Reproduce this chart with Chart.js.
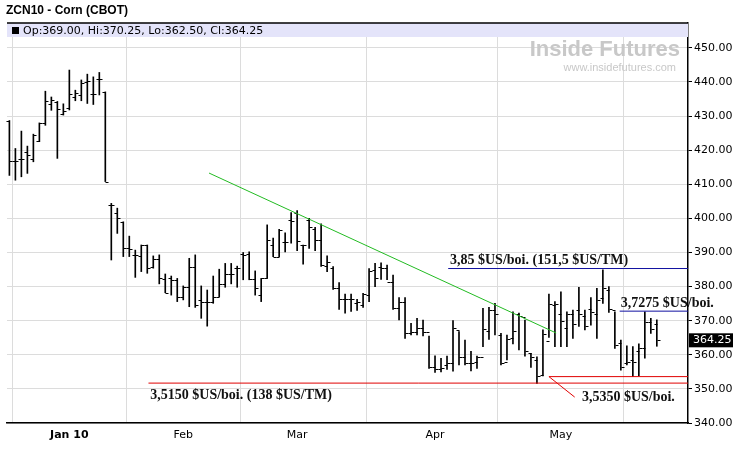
<!DOCTYPE html>
<html>
<head>
<meta charset="utf-8">
<script src="https://cdn.jsdelivr.net/npm/chart.js@4/dist/chart.umd.min.js"></script>
<style>
  body { margin: 0; background: #fff; }
  canvas { display: block; }
</style>
</head>
<body>
<canvas id="grafico" width="733" height="450"></canvas>
<script>
// ---- dados (índice = dia de pregão, 0 = 4 jan 2010) ----
const dias = [];
for (let i = -10; i <= 98; i++) dias.push(i);

const aberturas = [428.5,416.8,417.4,419.5,417.5,422.6,428,433.5,434,430.5,
  432.5,435.6,436.2,440,436.6,441,437,403.8,401.5,398.8,391.2,389.3,389,392.2,385.8,388,382.1,382.4,382,377,379.8,385.8,376.1,375.6,375.6,377,380.8,383.7,385.4,
  389.6,389.6,382.1,377.5,382.4,392.2,388.8,393.2,399.5,401.7,392.2,399.5,396.8,393.7,385.9,385.6,379.5,376.3,376.3,
  375.1,374.6,377.5,384.9,385.8,385.4,381.4,373.6,375.6,366.3,366.8,367.8,366.8,356.5,355.7,357,357.5,367.3,359.4,357.5,
  358,359.5,367,373,365.8,358,364.8,372,371,360.5,358.5,354.2,364,374.5,372,368,372,373,371.5,
  373.5,372,376.6,379,373,363.5,357.5,358.5,361,362,369.5,369];
const maximas = [428.7,420.5,425.6,421.2,424.7,428,437.3,435.6,434.3,433.6,
  443.5,437.6,440.6,442.3,441.5,442.8,437.1,404.4,403,399,394.8,390.7,392.2,392.2,389,389.3,383.7,383.1,382.4,380.2,388.3,389.3,380.2,379,383.1,385.1,386.8,386.8,386,
  390,390.2,384.6,382.4,398.1,394.2,396.8,395.8,401.7,402.3,392.2,400,397.4,398.4,389,385.9,381.2,377.8,377.8,
  376.3,378,385.3,386.8,387,386.3,383.4,376.8,376.8,369.2,370.7,370.2,365.5,359.7,359,359.6,370,366.8,364.3,361,
  359.6,373.6,373.9,375.1,366.3,365.8,372.6,372.2,370.2,360.4,359.4,367.3,377.8,375.6,378.5,372.6,373.1,379.8,373.1,
  376.8,379.5,384.9,380,372.6,364.3,362.6,362.4,363.2,372.6,370.7,370.25];
const minimas = [412.6,411.2,412.2,413.2,416.6,422.5,427.3,431.7,417.6,430.3,
  431.8,434.5,434.5,433.7,433.4,436.2,410.8,387.8,395.6,388.8,388.8,382.7,384.4,383.9,385.4,380.8,378.2,377.5,375.6,376.1,374.1,373.9,370.7,368.4,375.1,377,379.8,380.8,379.8,
  382,382,377.5,375.6,382.4,388.8,388.8,390.2,392.7,390.5,386.6,391.2,390.5,385.9,384.4,379.2,373.3,372.2,372.7,
  373,373.9,375.6,380,382.1,382,373.3,370.2,364.8,365.8,365.8,365.5,356,354.8,355,355.7,355.2,357,357,355.3,
  356,362.4,364.5,365.8,357,358.5,363.2,361.4,359.6,356.3,351.6,353.8,365.1,362.4,362.4,362.4,364.8,368.3,367.3,
  368.7,364.8,375.1,372.4,361.9,355.5,357,353.6,353.8,359,366.3,362.5];
const fechamentos = [416.8,416.8,417.4,418.5,424.5,428,434.3,434.6,432,431.5,
  436.6,436.8,439.8,440.4,436.6,440.8,410.8,403.8,400,391.2,391,389.3,392.2,385.4,388,382.4,378.2,382,377,379.8,385.8,374.6,375.6,375.4,377,380.8,383.7,383.7,385.4,
  389.3,382.1,379.5,382.4,393.7,388.8,396.6,393.2,399.3,393.5,392.2,397.6,393.7,386.4,387.3,379.5,376.3,376.3,376.3,
  375.6,377.8,384.7,382.4,385.4,381.4,373.6,375.6,366.3,366.8,367.8,366.8,356.5,355.7,356,357.5,367.8,359.4,357.5,357.5,
  359.4,367.5,373,372,357.5,364.5,367,371.5,361,359.5,353.8,366,375,375,370,372,369,372,368.5,
  372.5,376,379.5,373.5,363,356.5,358,358,362,369.5,367.5,364.25];

const mesesPos = [0, 19, 38, 61, 82];
const mesesNomes = ['Jan 10', 'Feb', 'Mar', 'Apr', 'May'];

// anotações (preço em US cents/bu)
const resistencia = 385.3, resistencia2 = 372.8, suporte = 351.7, suporte2 = 353.6;
const tendencia = [[23.3, 413.3], [81.2, 366.4]];

const barras = dias.map((d, i) => ({ x: d, y: [minimas[i], maximas[i]] }));

// desenha cabeçalho, ticks de abertura/fechamento e anotações
const extras = {
  id: 'extras',
  beforeDatasetsDraw(chart) {
    const { ctx, chartArea: a } = chart;
    ctx.save();
    ctx.fillStyle = '#e4e4fa';
    ctx.fillRect(a.left, a.top, a.right - a.left, 14);
    ctx.strokeStyle = '#000';
    ctx.lineWidth = 1.5;
    ctx.beginPath();
    ctx.moveTo(a.left, a.top); ctx.lineTo(a.right, a.top);
    ctx.stroke();
    ctx.fillStyle = '#000';
    ctx.fillRect(a.left + 5, a.top + 4, 7, 7);
    ctx.font = '11px "DejaVu Sans", sans-serif';
    ctx.textBaseline = 'middle';
    const n = dias.length - 1;
    ctx.fillText('Op:' + aberturas[n].toFixed(2) + ', Hi:' + maximas[n].toFixed(2) +
      ', Lo:' + minimas[n].toFixed(2) + ', Cl:' + fechamentos[n].toFixed(2), a.left + 16, a.top + 8);
    // marca d'água
    ctx.fillStyle = '#c8c8c8';
    ctx.font = 'bold 22px "Liberation Sans", sans-serif';
    ctx.textAlign = 'right';
    ctx.fillText('Inside Futures', a.right - 8, a.top + 27);
    ctx.font = '11px "Liberation Sans", sans-serif';
    ctx.fillText('www.insidefutures.com', a.right - 12, a.top + 45);
    ctx.restore();
  },
  afterDatasetsDraw(chart) {
    const { ctx, chartArea: a, scales: { x, y } } = chart;
    ctx.save();
    // ticks OHLC
    ctx.strokeStyle = '#000';
    ctx.lineWidth = 1;
    dias.forEach((d, i) => {
      const px = Math.round(x.getPixelForValue(d)) + 0.5;
      const yo = Math.round(y.getPixelForValue(aberturas[i])) + 0.5;
      const yc = Math.round(y.getPixelForValue(fechamentos[i])) + 0.5;
      ctx.beginPath();
      ctx.moveTo(px - 3, yo); ctx.lineTo(px, yo);
      ctx.moveTo(px, yc); ctx.lineTo(px + 3, yc);
      ctx.stroke();
    });
    const linha = (x1, v1, x2, v2, cor) => {
      ctx.strokeStyle = cor;
      ctx.beginPath();
      ctx.moveTo(x.getPixelForValue(x1), y.getPixelForValue(v1));
      ctx.lineTo(x.getPixelForValue(x2), y.getPixelForValue(v2));
      ctx.stroke();
    };
    const xmax = x.max;
    linha(tendencia[0][0], tendencia[0][1], tendencia[1][0], tendencia[1][1], '#22bb22');
    linha(63.2, resistencia, xmax, resistencia, '#1010a0');
    linha(91.8, resistencia2, xmax, resistencia2, '#1010a0');
    linha(13.2, suporte, xmax, suporte, '#e00000');
    linha(80, suporte2, xmax, suporte2, '#e00000');
    linha(80, suporte2, 84.3, 347.6, '#e00000');
    // textos
    ctx.fillStyle = '#111';
    ctx.font = 'bold 14px "Liberation Serif", serif';
    ctx.textBaseline = 'bottom';
    ctx.fillText('3,85 $US/boi. (151,5 $US/TM)', x.getPixelForValue(63.5), y.getPixelForValue(resistencia) - 1);
    ctx.fillText('3,7275 $US/boi.', x.getPixelForValue(92), y.getPixelForValue(resistencia2) - 1);
    ctx.textBaseline = 'top';
    ctx.fillText('3,5150 $US/boi. (138 $US/TM)', x.getPixelForValue(13.5), y.getPixelForValue(suporte) + 5);
    ctx.fillText('3,5350 $US/boi.', x.getPixelForValue(85.5), y.getPixelForValue(349.5));
    // último preço
    const yl = y.getPixelForValue(fechamentos[fechamentos.length - 1]);
    ctx.fillStyle = '#000';
    ctx.fillRect(a.right + 1, yl - 7, 44, 14);
    ctx.fillStyle = '#fff';
    ctx.font = '11px "DejaVu Sans", sans-serif';
    ctx.textBaseline = 'middle';
    ctx.fillText(fechamentos[fechamentos.length - 1].toFixed(2), a.right + 5, yl);
    // título
    ctx.fillStyle = '#000';
    ctx.font = 'bold 12px "Liberation Sans", sans-serif';
    ctx.fillText('ZCN10 - Corn (CBOT)', 6, 11);
    ctx.restore();
  }
};

new Chart(document.getElementById('grafico').getContext('2d'), {
  type: 'bar',
  data: {
    datasets: [{
      data: barras,
      backgroundColor: '#000',
      borderWidth: 0,
      barThickness: 1,
      grouped: false
    }]
  },
  options: {
    responsive: false,
    animation: false,
    layout: { padding: { top: 23, left: 7 } },
    plugins: { legend: { display: false }, tooltip: { enabled: false } },
    scales: {
      x: {
        type: 'linear',
        min: -10.4,
        max: 103.2,
        offset: false,
        border: { color: '#000', width: 1.5 },
        grid: { color: '#dcdcdc', drawTicks: false },
        afterBuildTicks: s => { s.ticks = mesesPos.map(v => ({ value: v })); },
        afterFit: s => { s.height = 27; },
        ticks: {
          autoSkip: false,
          maxRotation: 0,
          padding: 6,
          color: '#000',
          font: ctx => ({ family: '"DejaVu Sans", sans-serif', size: 11, weight: ctx.index === 0 ? 'bold' : 'normal' }),
          callback: (v, i) => mesesNomes[i]
        }
      },
      y: {
        position: 'right',
        min: 340,
        max: 457.3,
        border: { color: '#000', width: 1.5 },
        grid: { color: '#dcdcdc', drawTicks: true, tickLength: 4, tickColor: '#000' },
        afterBuildTicks: s => {
          const t = [];
          for (let v = 340; v <= 450; v += 10) t.push({ value: v });
          s.ticks = t;
        },
        afterFit: s => { s.width = 45; },
        ticks: {
          padding: 2,
          color: '#000',
          font: { family: '"DejaVu Sans", sans-serif', size: 11 },
          callback: v => v.toFixed(2)
        }
      }
    }
  },
  plugins: [extras]
});
</script>
</body>
</html>
